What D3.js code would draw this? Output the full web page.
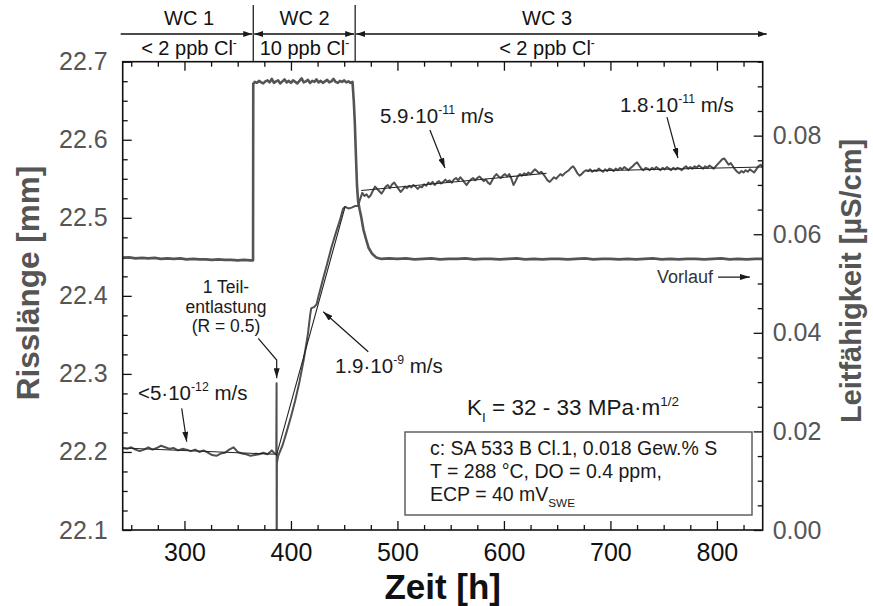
<!DOCTYPE html>
<html><head><meta charset="utf-8">
<script src="https://cdn.jsdelivr.net/npm/d3@7"></script>
<style>
body{margin:0;background:#fff}
svg{display:block;font-family:"Liberation Sans",Arial,Helvetica,sans-serif}
</style></head><body>
<svg id="chart" width="873" height="606"></svg>
<script>
// ---- axis ticks ----
const timeTicks = [300, 400, 500, 600, 700, 800];
const crackTicks = [22.1, 22.2, 22.3, 22.4, 22.5, 22.6, 22.7];
const condTicks = [0.00, 0.02, 0.04, 0.06, 0.08];

// ---- water chemistry phases (start/end in h) ----
const phaseBounds = [242, 364.6, 460.3, 843];
const phaseNames = ["WC 1", "WC 2", "WC 3"];
const phaseCl = ["< 2 ppb Cl", "10 ppb Cl", "< 2 ppb Cl"];

// ---- conductivity of the inlet water [µS/cm] vs time [h] ----
const condSeries = [
  [242,0.0552],[248,0.0553],[254,0.0551],[260,0.0552],[266,0.0551],[272,0.0552],[278,0.0550],
  [284,0.0551],[290,0.0550],[296,0.0551],[302,0.0549],[308,0.0550],[314,0.0549],[320,0.0549],
  [326,0.0548],[332,0.0549],[338,0.0548],[344,0.0548],[350,0.0547],[356,0.0548],[362,0.0547],
  [364.4,0.0547],[364.6,0.0905],[366,0.0909],[368,0.0907],[370,0.0911],[372,0.0908],[374,0.0906],
  [376,0.0910],[378,0.0912],[380,0.0908],[382,0.0915],[384,0.0907],[386,0.0910],[388,0.0912],
  [390,0.0906],[392,0.0910],[394,0.0914],[396,0.0908],[398,0.0911],[400,0.0907],[402,0.0912],
  [404,0.0909],[406,0.0906],[408,0.0911],[410,0.0916],[412,0.0908],[414,0.0910],[416,0.0913],
  [418,0.0907],[420,0.0911],[422,0.0909],[424,0.0914],[426,0.0908],[428,0.0911],[430,0.0907],
  [432,0.0910],[434,0.0913],[436,0.0908],[438,0.0910],[440,0.0915],[442,0.0909],[444,0.0907],
  [446,0.0911],[448,0.0909],[450,0.0912],[452,0.0908],[454,0.0910],[456,0.0907],[457.8,0.0909],
  [459,0.0870],[460,0.0825],[461,0.0760],[462,0.0700],[463,0.0668],[464.5,0.0650],[466,0.0635],
  [468,0.0610],[470.5,0.0590],[473,0.0572],[476,0.0561],[480,0.0553],[485,0.0550],[492,0.0551],
  [500,0.0550],[508,0.0551],[516,0.0549],[524,0.0550],[532,0.0551],[540,0.0549],[548,0.0550],
  [556,0.0550],[564,0.0551],[572,0.0549],[580,0.0550],[588,0.0550],[596,0.0549],[604,0.0550],
  [612,0.0551],[620,0.0549],[628,0.0550],[636,0.0549],[644,0.0550],[652,0.0550],[660,0.0549],
  [668,0.0550],[676,0.0551],[684,0.0549],[692,0.0550],[700,0.0550],[708,0.0549],[716,0.0550],
  [724,0.0549],[732,0.0550],[740,0.0551],[748,0.0549],[756,0.0550],[764,0.0549],[772,0.0550],
  [780,0.0550],[788,0.0549],[796,0.0550],[804,0.0551],[812,0.0549],[820,0.0550],[828,0.0549],
  [836,0.0550],[843,0.0550]
];

// ---- crack length [mm] vs time [h] ----
const crackSeries = [
  [242,22.205],[246,22.204],[250,22.206],[254,22.203],[258,22.201],[262,22.203],[266,22.206],
  [270,22.203],[274,22.205],[278,22.208],[282,22.206],[286,22.204],[290,22.205],[294,22.202],
  [298,22.204],[302,22.203],[306,22.201],[310,22.203],[314,22.200],[318,22.202],[322,22.199],
  [326,22.196],[330,22.195],[334,22.198],[338,22.199],[342,22.203],[346,22.206],[350,22.200],
  [354,22.198],[358,22.197],[362,22.195],[366,22.196],[370,22.197],[374,22.199],[378,22.197],
  [382,22.202],[384,22.199],[386.2,22.197],[386.5,22.288],[386.6,22.0],[386.8,22.186],
  [388,22.195],[392,22.208],[396,22.226],[400,22.245],[404,22.266],[408,22.290],[412,22.318],
  [416,22.352],[418,22.375],[419,22.384],[422,22.386],[424,22.389],[426,22.400],[430,22.421],
  [434,22.441],[438,22.462],[442,22.480],[446,22.497],[449,22.512],[451,22.514],[454,22.512],
  [457,22.513],[460,22.515],[463,22.515],[465,22.524],[467,22.532],[469,22.528],[471,22.530],
  [473,22.526],[475,22.529],[477,22.535],[479,22.540],[481,22.537],[483,22.534],[485,22.531],
  [487,22.535],[489,22.540],[491,22.542],[493,22.538],[495,22.543],[497,22.545],[499,22.541],
  [501,22.537],[503,22.533],[505,22.536],[507,22.540],[509,22.538],[511,22.541],[513,22.539],
  [515,22.542],[517,22.540],[519,22.537],[521,22.540],[523,22.539],[525,22.543],[527,22.541],
  [529,22.545],[531,22.543],[533,22.546],[535,22.542],[537,22.545],[539,22.547],[541,22.544],
  [543,22.546],[545,22.549],[547,22.546],[549,22.548],[551,22.545],[553,22.549],[555,22.551],
  [557,22.548],[559,22.552],[561,22.549],[563,22.545],[565,22.542],[567,22.546],[569,22.549],
  [571,22.551],[573,22.548],[575,22.551],[577,22.553],[579,22.550],[581,22.547],[583,22.549],
  [585,22.545],[587,22.543],[589,22.548],[591,22.553],[593,22.556],[595,22.553],[597,22.551],
  [599,22.554],[601,22.556],[603,22.553],[605,22.556],[607,22.550],[609,22.542],[611,22.547],
  [613,22.553],[615,22.556],[617,22.554],[619,22.557],[621,22.555],[623,22.558],[625,22.556],
  [627,22.559],[629,22.562],[631,22.560],[633,22.557],[635,22.559],[637,22.556],[639,22.552],
  [641,22.548],[643,22.546],[645,22.549],[647,22.552],[649,22.550],[651,22.553],[653,22.556],
  [655,22.554],[657,22.557],[659,22.559],[661,22.561],[663,22.564],[665,22.566],[667,22.562],
  [669,22.557],[671,22.554],[673,22.556],[675,22.559],[677,22.561],[679,22.560],[681,22.562],
  [683,22.559],[685,22.561],[687,22.560],[689,22.563],[691,22.561],[693,22.559],[695,22.562],
  [697,22.560],[699,22.563],[701,22.562],[703,22.560],[705,22.563],[707,22.561],[709,22.564],
  [711,22.562],[713,22.565],[715,22.563],[717,22.561],[719,22.564],[721,22.566],[723,22.569],
  [725,22.571],[727,22.567],[729,22.563],[731,22.561],[733,22.564],[735,22.563],[737,22.561],
  [739,22.564],[741,22.562],[743,22.565],[745,22.563],[747,22.561],[749,22.564],[751,22.562],
  [753,22.565],[755,22.563],[757,22.561],[759,22.564],[761,22.562],[763,22.564],[765,22.563],
  [767,22.561],[769,22.564],[771,22.566],[773,22.563],[775,22.565],[777,22.563],[779,22.566],
  [781,22.564],[783,22.567],[785,22.565],[787,22.563],[789,22.566],[791,22.564],[793,22.567],
  [795,22.565],[797,22.563],[799,22.566],[801,22.569],[803,22.572],[805,22.575],[807,22.576],
  [809,22.572],[811,22.568],[813,22.570],[815,22.566],[817,22.562],[819,22.559],[821,22.557],
  [823,22.560],[825,22.558],[827,22.561],[829,22.559],[831,22.562],[833,22.560],[835,22.558],
  [837,22.562],[839,22.566],[841,22.568],[843,22.565]
];

// ---- linear fits of crack growth rate per phase ----
const fitWC1 = [[242,22.205],[386.3,22.197]];
const fitWC2 = [[386.3,22.195],[451,22.515]];
const fitWC3a = [[466,22.535],[640,22.557]];
const fitWC3b = [[678,22.560],[843,22.565]];

// ---- annotation arrows, in (time, crack length) units ----
const arrowRate1 = [[297.4,22.2559],[302.1,22.2131]];
const arrowRate2 = [[472.6,22.3284],[430.3,22.3797]];
const arrowRate3 = [[530.5,22.6125],[544.6,22.5638]];
const arrowRate4 = [[753.1,22.6291],[763.4,22.5766]];
const arrowUnload = [[369.3,22.3456],[386.6,22.3178],[386.6,22.2944]];
const arrowInlet = [[801,22.4241],[831,22.4241]];

const svg = d3.select("#chart");
const L = 122.7, R = 762.7, T = 61.7, B = 530;

const x = d3.scaleLinear().domain([242, 843]).range([L, R]);
const yL = d3.scaleLinear().domain([22.1, 22.7]).range([B, T]);
const yR = d3.scaleLinear().domain([0, 0.095]).range([B, T]);

const defs = svg.append("defs");
defs.append("clipPath").attr("id", "plotClip")
  .append("rect").attr("x", L).attr("y", T).attr("width", R - L).attr("height", B - T);
function marker(id, color, len, wid) {
  defs.append("marker").attr("id", id)
    .attr("viewBox", `0 0 ${len} ${wid}`).attr("refX", len).attr("refY", wid / 2)
    .attr("markerWidth", len).attr("markerHeight", wid).attr("markerUnits", "userSpaceOnUse")
    .attr("orient", "auto-start-reverse")
    .append("path").attr("d", `M0,0L${len},${wid / 2}L0,${wid}Z`).attr("fill", color);
}
marker("arr", "#1a1a1a", 10, 6);
marker("arrS", "#1a1a1a", 9, 6);

// text with sub/superscripts
function rich(sel, px, py, parts, size, anchor, fill, weight) {
  const t = sel.append("text").attr("x", px).attr("y", py).attr("font-size", size)
    .attr("text-anchor", anchor || "start").attr("fill", fill || "#1a1a1a");
  if (weight) t.attr("font-weight", weight);
  let shift = 0;
  parts.forEach(p => {
    let target = 0, fs = size;
    if (p.sup) { target = -size * 0.42; fs = size * 0.6; }
    if (p.sub) { target = size * 0.32; fs = size * 0.6; }
    t.append("tspan").attr("dy", (target - shift).toFixed(2)).attr("font-size", fs).text(p.t);
    shift = target;
  });
  return t;
}

// ---- ticks (inside the frame) ----
const range = (a, b, s) => d3.range(Math.round(a / s), Math.round(b / s) + 1).map(i => +(i * s).toFixed(4));
const xMinor = range(250, 825, 25).filter(v => !timeTicks.includes(v));
const yLMinor = range(22.1, 22.7, 0.025).filter(v => !crackTicks.some(t => Math.abs(t - v) < 1e-6));
const yRMinor = range(0, 0.095, 0.005).filter(v => !condTicks.some(t => Math.abs(t - v) < 1e-6));

function styleAxis(g) {
  g.select(".domain").remove();
  g.selectAll(".tick line").attr("stroke", "#111").attr("stroke-width", 1.3);
  g.selectAll("text").attr("font-family", "Liberation Sans, Arial, sans-serif");
}
const MAJ = 9, MIN = 5;
// bottom
svg.append("g").attr("transform", `translate(0,${B})`)
  .call(d3.axisBottom(x).tickValues(timeTicks).tickSize(-MAJ).tickPadding(13).tickFormat(d3.format("d")))
  .call(styleAxis).call(g => g.selectAll("text").attr("font-size", 25).attr("fill", "#111"));
svg.append("g").attr("transform", `translate(0,${B})`)
  .call(d3.axisBottom(x).tickValues(xMinor).tickSize(-MIN).tickFormat(""))
  .call(styleAxis);
// top
svg.append("g").attr("transform", `translate(0,${T})`)
  .call(d3.axisTop(x).tickValues(timeTicks).tickSize(-MAJ).tickFormat(""))
  .call(styleAxis);
svg.append("g").attr("transform", `translate(0,${T})`)
  .call(d3.axisTop(x).tickValues(xMinor).tickSize(-MIN).tickFormat(""))
  .call(styleAxis);
// left
svg.append("g").attr("transform", `translate(${L},0)`)
  .call(d3.axisLeft(yL).tickValues(crackTicks).tickSize(-MAJ).tickPadding(15).tickFormat(d3.format(".1f")))
  .call(styleAxis).call(g => g.selectAll("text").attr("font-size", 25).attr("fill", "#555"));
svg.append("g").attr("transform", `translate(${L},0)`)
  .call(d3.axisLeft(yL).tickValues(yLMinor).tickSize(-MIN).tickFormat(""))
  .call(styleAxis);
// right
svg.append("g").attr("transform", `translate(${R},0)`)
  .call(d3.axisRight(yR).tickValues(condTicks).tickSize(-MAJ).tickPadding(10).tickFormat(d3.format(".2f")))
  .call(styleAxis).call(g => g.selectAll("text").attr("font-size", 25).attr("fill", "#555"));
svg.append("g").attr("transform", `translate(${R},0)`)
  .call(d3.axisRight(yR).tickValues(yRMinor).tickSize(-MIN).tickFormat(""))
  .call(styleAxis);

// ---- data ----
const plot = svg.append("g").attr("clip-path", "url(#plotClip)");
const lineC = d3.line().x(d => x(d[0])).y(d => yR(d[1]));
const lineK = d3.line().x(d => x(d[0])).y(d => yL(d[1]));

plot.append("path").datum(condSeries).attr("d", lineC)
  .attr("fill", "none").attr("stroke", "#545454").attr("stroke-width", 2.6).attr("stroke-linejoin", "round");
plot.append("path").datum(crackSeries).attr("d", lineK)
  .attr("fill", "none").attr("stroke", "#505050").attr("stroke-width", 2).attr("stroke-linejoin", "round");
[fitWC1, fitWC2, fitWC3a, fitWC3b].forEach(f => {
  plot.append("path").datum(f).attr("d", lineK)
    .attr("fill", "none").attr("stroke", "#222").attr("stroke-width", 1.1);
});

// frame
svg.append("rect").attr("x", L).attr("y", T).attr("width", R - L).attr("height", B - T)
  .attr("fill", "none").attr("stroke", "#111").attr("stroke-width", 1.6);

// ---- phase header ----
const hdr = svg.append("g");
const yArrow = 34;
const bx = phaseBounds.map(v => x(v));
[1, 2].forEach(i => {
  hdr.append("line").attr("x1", bx[i]).attr("x2", bx[i]).attr("y1", 5).attr("y2", T)
    .attr("stroke", "#111").attr("stroke-width", 1.2);
});
phaseNames.forEach((n, i) => {
  const seg = hdr.append("line").attr("x1", bx[i] + (i ? 1 : -2)).attr("x2", bx[i + 1] + (i < 2 ? -1 : 4))
    .attr("y1", yArrow).attr("y2", yArrow).attr("stroke", "#111").attr("stroke-width", 1.3)
    .attr("marker-end", "url(#arrS)");
  if (i > 0) seg.attr("marker-start", "url(#arrS)");
});
const hdrMid = [189, 304.5, 547];
phaseNames.forEach((n, i) => {
  hdr.append("text").attr("x", hdrMid[i]).attr("y", 25).attr("text-anchor", "middle")
    .attr("font-size", 20).attr("fill", "#111").text(n);
  rich(hdr, hdrMid[i], 55, [{ t: phaseCl[i] }, { t: "-", sup: true }], 20, "middle", "#111");
});

// ---- axis titles ----
svg.append("text").attr("transform", "translate(39,283) rotate(-90)")
  .attr("text-anchor", "middle").attr("font-size", 31.5).attr("font-weight", "bold").attr("fill", "#555")
  .text("Risslänge  [mm]");
svg.append("text").attr("transform", "translate(861,281) rotate(-90)")
  .attr("text-anchor", "middle").attr("font-size", 29).attr("font-weight", "bold").attr("fill", "#555")
  .text("Leitfähigkeit [µS/cm]");
svg.append("text").attr("x", (L + R) / 2).attr("y", 599).attr("text-anchor", "middle")
  .attr("font-size", 35).attr("font-weight", "bold").attr("fill", "#111").text("Zeit  [h]");

// ---- annotations ----
const ann = svg.append("g");
const arrowLine = d3.line().x(d => x(d[0])).y(d => yL(d[1]));
[arrowRate1, arrowRate2, arrowRate3, arrowRate4, arrowUnload, arrowInlet].forEach(a => {
  ann.append("path").datum(a).attr("d", arrowLine).attr("fill", "none")
    .attr("stroke", "#1a1a1a").attr("stroke-width", 1.2).attr("marker-end", "url(#arr)");
});
rich(ann, 138, 400, [{ t: "<5·10" }, { t: "-12", sup: true }, { t: " m/s" }], 20.5);
rich(ann, 335, 373, [{ t: "1.9·10" }, { t: "-9", sup: true }, { t: " m/s" }], 20.5);
rich(ann, 380, 123, [{ t: "5.9·10" }, { t: "-11", sup: true }, { t: " m/s" }], 20.5);
rich(ann, 620, 112, [{ t: "1.8·10" }, { t: "-11", sup: true }, { t: " m/s" }], 20.5);
ann.append("text").attr("x", 713).attr("y", 283).attr("text-anchor", "end")
  .attr("font-size", 18).attr("fill", "#333").text("Vorlauf");
["1 Teil-", "entlastung", "(R = 0.5)"].forEach((s, i) => {
  ann.append("text").attr("x", 226).attr("y", 293 + i * 19.5).attr("text-anchor", "middle")
    .attr("font-size", 17.5).attr("fill", "#1a1a1a").text(s);
});
rich(ann, 467, 415, [{ t: "K" }, { t: "I", sub: true }, { t: " = 32 - 33 MPa·m" }, { t: "1/2", sup: true }], 22.5);

// ---- test conditions box ----
const box = svg.append("g");
box.append("rect").attr("x", 405).attr("y", 432).attr("width", 347).attr("height", 83)
  .attr("fill", "#fff").attr("stroke", "#555").attr("stroke-width", 1.4);
rich(box, 430, 455, [{ t: "c: SA 533 B Cl.1, 0.018 Gew.% S" }], 19.5);
rich(box, 430, 478, [{ t: "T = 288 °C, DO = 0.4 ppm," }], 19.5);
rich(box, 430, 501, [{ t: "ECP = 40 mV" }, { t: "SWE", sub: true }], 19.5);
</script>
</body></html>
